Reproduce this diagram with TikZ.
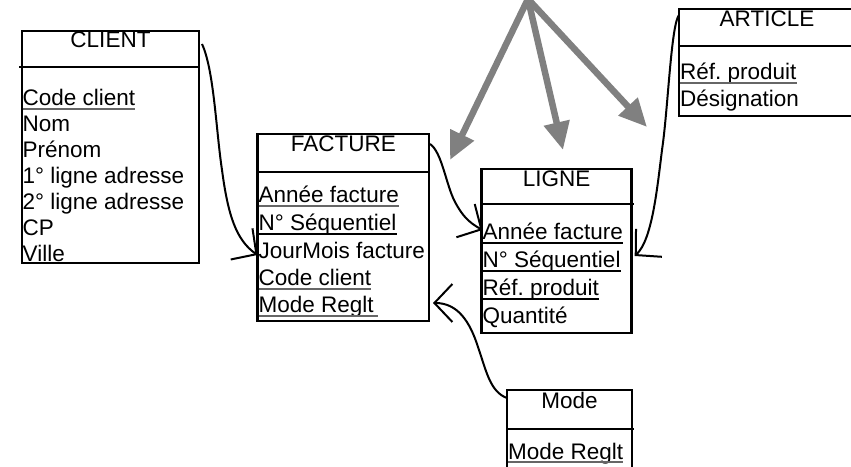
\documentclass[tikz,border=0pt]{standalone}
\usepackage{fontspec}
\setmainfont{Liberation Sans}
\frenchspacing
\usetikzlibrary{arrows.meta,calc}
\definecolor{pointergray}{RGB}{128,128,128}
\newcommand\keyunder[2][ulg]{\draw[#1] ([yshift=-3bp]#2.base west) -- ([yshift=-3bp]#2.base east);}
\begin{document}
\begin{tikzpicture}[x=1bp,y=-1bp,
  box/.style={draw, line width=2.9bp, rectangle, anchor=north west, inner sep=0pt, outer sep=0pt},
  rule/.style={line width=2.9bp},
  ttl/.style={anchor=base, inner sep=0pt, font=\fontsize{22.5bp}{26bp}\selectfont},
  attr/.style={anchor=base west, inner sep=0pt, font=\fontsize{22.5bp}{26bp}\selectfont},
  ulk/.style={line width=1.7bp, black},
  ulg/.style={line width=1.7bp, black!60},
  link/.style={line width=2bp, -{Straight Barb[length=18bp, width=38bp]}},
  pointer/.style={line width=6.5bp, draw=pointergray, -{Triangle[length=28bp, width=25bp]}, fill=pointergray}
]
\useasboundingbox (0,0) rectangle (851,467);
\clip (0,0) rectangle (851,467);

% entity frames
\node[box, minimum width=177bp, minimum height=232bp] (client) at (22,31) {};
\node[box, minimum width=171.3bp, minimum height=187bp] (facture) at (257.7,134) {};
\node[box, minimum width=150bp, minimum height=164bp] (ligne) at (481.7,169) {};
\node[box, minimum width=176bp, minimum height=107bp] (article) at (679,9) {};
\node[box, minimum width=125bp, minimum height=95bp] (mode) at (507,390) {};

% header separators
\draw[rule] (19,67) -- (199,67);
\draw[rule] (257.7,172) -- (429,172);
\draw[rule] (481.7,204) -- (634,204);
\draw[rule] (679,46) -- (855,46);
\draw[rule] (507,429) -- (634,429);

% CLIENT
\node[ttl] (cl-t) at (110.5,48) {CLIENT};
\node[attr] (cl-code) at (22.5,106) {Code client};
\node[attr] (cl-nom) at (22.5,131.9) {Nom};
\node[attr] (cl-pre) at (22.5,157.8) {Prénom};
\node[attr] (cl-ad1) at (22.5,183.7) {1° ligne adresse};
\node[attr] (cl-ad2) at (22.5,209.6) {2° ligne adresse};
\node[attr] (cl-cp) at (22.5,235.5) {CP};
\node[attr] (cl-ville) at (22.5,261.4) {Ville};
\keyunder{cl-code}

% FACTURE
\node[ttl] (fa-t) at (343.4,152) {FACTURE};
\node[attr] (fa-annee) at (258.5,203) {Année facture};
\node[attr] (fa-seq) at (258.5,231) {N° Séquentiel};
\node[attr] (fa-jour) at (258.5,259) {JourMois facture};
\node[attr] (fa-code) at (258.5,286) {Code client};
\node[attr] (fa-mode) at (258.5,313) {Mode Reglt};
\keyunder{fa-annee}
\keyunder[ulk]{fa-seq}
\keyunder{fa-code}
\draw[ulg] ([yshift=-3bp]fa-mode.base west) -- ([xshift=4bp,yshift=-3bp]fa-mode.base east);

% LIGNE
\node[ttl] (lg-t) at (556.7,187) {LIGNE};
\node[attr] (lg-annee) at (482.5,240) {Année facture};
\node[attr] (lg-seq) at (482.5,268) {N° Séquentiel};
\node[attr] (lg-ref) at (482.5,296) {Réf. produit};
\node[attr] (lg-qte) at (482.5,324) {Quantité};
\keyunder[ulk]{lg-annee}
\keyunder[ulk]{lg-seq}
\keyunder[ulk]{lg-ref}

% ARTICLE
\node[ttl] (ar-t) at (767,27) {ARTICLE};
\node[attr] (ar-ref) at (680,80) {Réf. produit};
\node[attr] (ar-des) at (680,107) {Désignation};
\keyunder{ar-ref}

% Mode
\node[ttl] (mo-t) at (569.5,408) {Mode};
\node[attr] (mo-reglt) at (508,459) {Mode Reglt};
\keyunder{mo-reglt}

% relationship links
\coordinate (c1s) at ([shift={(3,13)}]client.north east);
\coordinate (c1e) at ([shift={(-1,-4)}]fa-jour.base west);
\draw[link] (c1s) .. controls (214,70) and (216,130) .. (222,170)
  .. controls (228,215) and (236,240) .. (c1e);

\coordinate (c2s) at ([shift={(1,10)}]facture.north east);
\coordinate (c2e) at ([shift={(0,-10)}]lg-annee.base west);
\draw[link] (c2s) .. controls (442,152) and (446,185) .. (455,202)
  .. controls (462,215) and (468,222) .. (c2e);

\coordinate (c3s) at ([shift={(0,6)}]article.north west);
\coordinate (c3e) at ($(ligne.east |- lg-seq.base)+(3,-12)$);
\draw[link] (c3s) .. controls (671,25) and (668,110) .. (662,150)
  .. controls (657,190) and (652,240) .. (c3e);

\coordinate (c4s) at ([shift={(0,8)}]mode.north west);
\coordinate (c4e) at ($(facture.east |- fa-mode.base)+(4,-10)$);
\draw[link] (c4s) .. controls (490,392) and (486,370) .. (478,347)
  .. controls (470,322) and (458,303) .. (c4e);

% grey pointers
\coordinate (hub) at (528,-1);
\coordinate (p1) at (450,160);
\coordinate (p2) at (563,150);
\coordinate (p3) at (647,127);
\draw[pointer] (hub) -- (p1);
\draw[pointer] (hub) -- (p2);
\draw[pointer] (hub) -- (p3);
\end{tikzpicture}
\end{document}
